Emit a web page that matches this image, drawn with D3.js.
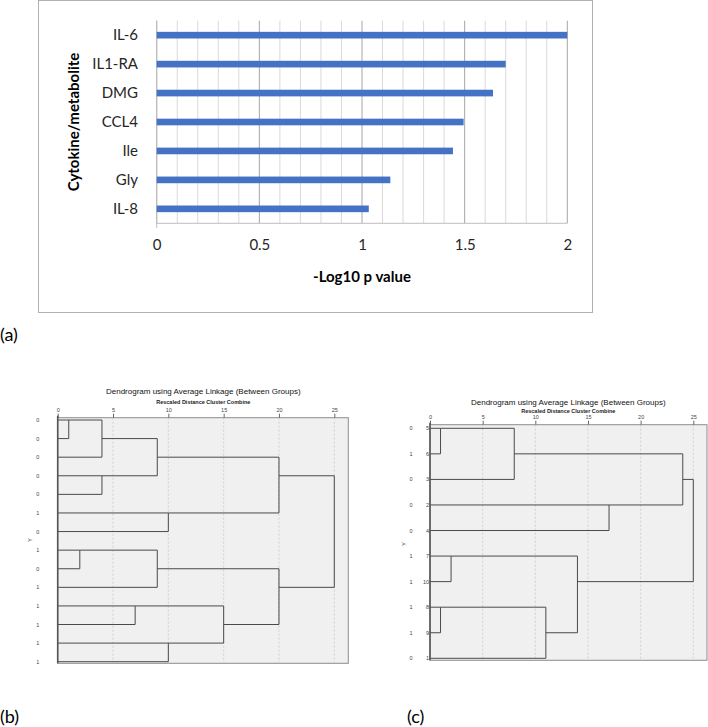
<!DOCTYPE html>
<html><head><meta charset="utf-8">
<script src="https://cdn.jsdelivr.net/npm/d3@7/dist/d3.min.js"></script>
<style>body{margin:0;background:#fff}svg{display:block}</style>
</head><body>
<svg id="c" width="708" height="727"></svg>
<script>
// ---- Panel (a) data ----
const categories = ["IL-6","IL1-RA","DMG","CCL4","Ile","Gly","IL-8"];
const logP = [2.0, 1.70, 1.638, 1.495, 1.443, 1.138, 1.033];
const xTicksA = [0, 0.5, 1, 1.5, 2];

// ---- Panel (b) data ----
const leavesB = ["0","0","0","0","0","1","0","1","0","1","1","1","1","1"];
// merges: [childA, childB, distance]; leaves 0..n-1, new nodes numbered n, n+1, ...
const mergesB = [[0,1,1],[3,4,4],[14,2,4],[16,15,9],[5,6,10],[17,18,20],[7,8,2],[20,9,9],[10,11,7],[12,13,10],[22,23,15],[21,24,20],[19,25,25]];

// ---- Panel (c) data ----
const leavesC = ["0","1","0","0","0","1","1","1","1","0"];
const casesC = ["5","6","3","2","4","7","10","8","9","1"];
const mergesC = [[0,1,1],[10,2,8],[3,4,17],[11,12,24],[5,6,2],[7,8,1],[15,9,11],[14,16,14],[13,17,25]];
const distTicks = [0,5,10,15,20,25];

const svg = d3.select("#c");
const calibri = "Lato, 'Open Sans', sans-serif";

// ===== Panel (a) =====
svg.append("rect").attr("x",38.5).attr("y",0.5).attr("width",554).attr("height",312)
  .attr("fill","#fff").attr("stroke","#b0b0b0");
const xA = d3.scaleLinear().domain([0,2]).range([156.7,567.3]);
const yA = d3.scaleBand().domain(categories).range([20.7,223.3]).paddingInner(0.77).paddingOuter(0.385);
const gA = svg.append("g");
// gridlines
d3.range(0,2.0001,0.1).forEach(v=>{
  const major = Math.abs(v*2-Math.round(v*2))<1e-6;
  gA.append("line").attr("x1",xA(v)).attr("x2",xA(v)).attr("y1",20.7).attr("y2",223.3)
    .attr("stroke", major? "#a6a6a6":"#d9d9d9").attr("stroke-width",1);
});
gA.append("line").attr("x1",xA(0)).attr("x2",xA(2)).attr("y1",223.3).attr("y2",223.3).attr("stroke","#bfbfbf");
gA.append("line").attr("x1",xA(0)).attr("x2",xA(0)).attr("y1",20.7).attr("y2",228).attr("stroke","#bfbfbf");
gA.selectAll("rect.bar").data(categories).enter().append("rect").attr("class","bar")
  .attr("x",xA(0)).attr("y",d=>yA(d)).attr("height",yA.bandwidth())
  .attr("width",(d,i)=>xA(logP[i])-xA(0)).attr("fill","#4472C4");
const axA = gA.append("g").attr("transform","translate(0,236)")
  .call(d3.axisBottom(xA).tickValues(xTicksA).tickFormat(d3.format("")).tickSize(0));
axA.select(".domain").remove();
axA.selectAll("text").attr("font-family",calibri).attr("font-size",15).attr("fill","#262626");
const ayA = gA.append("g").attr("transform","translate(146,0)")
  .call(d3.axisLeft(yA).tickSize(0).tickPadding(8));
ayA.select(".domain").remove();
ayA.selectAll("text").attr("font-family",calibri).attr("font-size",15).attr("fill","#262626");
gA.append("text").attr("x",362).attr("y",282).attr("text-anchor","middle")
  .attr("font-family",calibri).attr("font-size",15).attr("font-weight","bold").attr("fill","#000").text("-Log10 p value");
gA.append("text").attr("transform","translate(79,122) rotate(-90)").attr("text-anchor","middle")
  .attr("font-family",calibri).attr("font-size",15).attr("font-weight","bold").attr("fill","#000").text("Cytokine/metabolite");
svg.append("text").attr("x",0).attr("y",341).attr("font-family",calibri).attr("font-size",18).attr("fill","#000").text("(a)");
svg.append("text").attr("x",0).attr("y",723).attr("font-family",calibri).attr("font-size",18).attr("fill","#000").text("(b)");
svg.append("text").attr("x",407).attr("y",723).attr("font-family",calibri).attr("font-size",18).attr("fill","#000").text("(c)");

// ===== Dendrogram helper =====
function dendro(o){
  const n = o.leaves.length;
  const g = svg.append("g");
  const x = d3.scaleLinear().domain([0,25]).range([o.x0,o.x25]);
  const y = d3.scalePoint().domain(d3.range(n)).range([o.yTop,o.yBot]);
  // frame
  g.append("rect").attr("x",x(0)).attr("y",o.frameTop).attr("width",o.frameRight-x(0)).attr("height",o.frameBot-o.frameTop)
    .attr("fill","#f0f0f0").attr("stroke","#8c8c8c").attr("stroke-width",1);
  distTicks.filter(d=>d>0).forEach(d=>{
    g.append("line").attr("x1",x(d)).attr("x2",x(d)).attr("y1",o.frameTop).attr("y2",o.frameBot)
      .attr("stroke","#c8c8c8").attr("stroke-dasharray","2,2").attr("stroke-width",0.8);
  });
  const ax = g.append("g").attr("transform",`translate(0,${o.frameTop})`)
    .call(d3.axisTop(x).tickValues(distTicks).tickSize(4).tickPadding(2));
  ax.select(".domain").remove();
  ax.selectAll("line").attr("stroke","#666");
  ax.selectAll("text").attr("font-family","Liberation Sans, Arial, sans-serif").attr("font-size",5.5).attr("fill","#444");
  // tree
  const pos = d3.range(n).map(i=>({row:i, d:0}));
  const lineCol = "#4a4a4a";
  o.merges.forEach(([a,b,dist])=>{
    const A = pos[a], B = pos[b];
    [A,B].forEach(c=>{
      g.append("line").attr("x1",x(c.d)).attr("x2",x(dist)).attr("y1",y(c.row)).attr("y2",y(c.row))
        .attr("stroke",lineCol).attr("stroke-width",1);
    });
    g.append("line").attr("x1",x(dist)).attr("x2",x(dist)).attr("y1",y(A.row)).attr("y2",y(B.row))
      .attr("stroke",lineCol).attr("stroke-width",1);
    pos.push({row: Math.floor((A.row+B.row)/2), d: dist});
  });
  // left axis line
  g.append("line").attr("x1",x(0)).attr("x2",x(0)).attr("y1",o.frameTop-2).attr("y2",o.frameBot)
    .attr("stroke","#555").attr("stroke-width",1.6);
  // labels
  g.selectAll("text.lf").data(o.leaves).enter().append("text").attr("class","lf")
    .attr("x",o.labelX).attr("y",(d,i)=>y(i)+2).attr("text-anchor","middle")
    .attr("font-family","Liberation Sans, Arial, sans-serif").attr("font-size",5.5).attr("fill","#444").text(d=>d);
  if(o.cases){
    g.selectAll("text.cs").data(o.cases).enter().append("text").attr("class","cs")
      .attr("x",x(0)-1).attr("y",(d,i)=>y(i)+2).attr("text-anchor","end")
      .attr("font-family","Liberation Sans, Arial, sans-serif").attr("font-size",5.5).attr("fill","#444").text(d=>d);
  }
  g.append("text").attr("transform",`translate(${o.yLabX},${o.yLabY}) rotate(-90)`).attr("text-anchor","middle")
    .attr("font-family","Liberation Sans, Arial, sans-serif").attr("font-size",5.5).attr("fill","#444").text("Y");
  g.append("text").attr("x",o.titleX).attr("y",o.titleY).attr("text-anchor","middle")
    .attr("font-family","Liberation Sans, Arial, sans-serif").attr("font-size",8).attr("fill","#111")
    .text("Dendrogram using Average Linkage (Between Groups)");
  g.append("text").attr("x",o.titleX).attr("y",o.subY).attr("text-anchor","middle")
    .attr("font-family","Liberation Sans, Arial, sans-serif").attr("font-size",5.5).attr("font-weight","bold").attr("fill","#222")
    .text("Rescaled Distance Cluster Combine");
}

dendro({leaves:leavesB, merges:mergesB, x0:57.7, x25:334.3, yTop:420, yBot:661.7,
  frameTop:417.7, frameBot:663.3, frameRight:348.3, labelX:37.7, yLabX:32, yLabY:540,
  titleX:203.3, titleY:394, subY:403.5});
dendro({leaves:leavesC, cases:casesC, merges:mergesC, x0:430, x25:693.3, yTop:428.3, yBot:658.3,
  frameTop:424.7, frameBot:660.3, frameRight:707, labelX:411, yLabX:406, yLabY:544,
  titleX:568.3, titleY:404.5, subY:412.5});
</script>
</body></html>
